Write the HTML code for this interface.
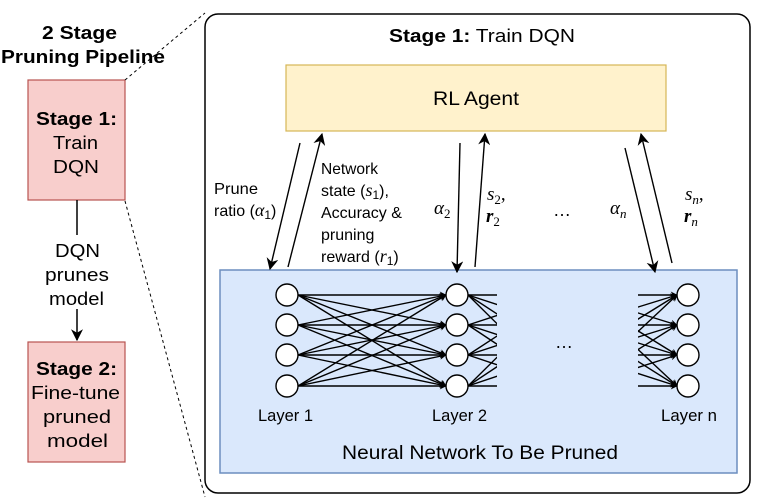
<!DOCTYPE html>
<html><head><meta charset="utf-8"><style>
html,body{margin:0;padding:0;background:#fff;}
svg{display:block;font-family:"Liberation Sans",Arial,sans-serif;}
</style></head><body>
<svg width="758" height="503" viewBox="0 0 758 503" xmlns="http://www.w3.org/2000/svg">
<defs>
<marker id="a" viewBox="0 0 10 10" refX="9" refY="5" markerWidth="7" markerHeight="7" orient="auto" markerUnits="userSpaceOnUse"><path d="M0,0 L10,5 L0,10 L3,5 z" fill="#000"/></marker>
<marker id="b" viewBox="0 0 10 10" refX="9" refY="5" markerWidth="12" markerHeight="12" orient="auto" markerUnits="userSpaceOnUse"><path d="M0,0 L10,5 L0,10 L3,5 z" fill="#000"/></marker>
<clipPath id="c2"><rect x="460" y="280" width="37" height="120"/></clipPath>
<clipPath id="cn"><rect x="638" y="280" width="60" height="120"/></clipPath>
</defs>
<!-- left -->
<g font-size="18.5" lengthAdjust="spacingAndGlyphs">
<text x="42" y="39" font-weight="bold" textLength="75" lengthAdjust="spacingAndGlyphs">2 Stage</text>
<text x="1" y="63" font-weight="bold" textLength="164" lengthAdjust="spacingAndGlyphs">Pruning Pipeline</text>
<rect x="28" y="80" width="97" height="120" fill="#f8cecc" stroke="#b85450" stroke-width="1.2"/>
<text x="36" y="125" font-weight="bold" textLength="81" lengthAdjust="spacingAndGlyphs">Stage 1:</text>
<text x="53" y="149" textLength="45" lengthAdjust="spacingAndGlyphs">Train</text>
<text x="53" y="173" textLength="46" lengthAdjust="spacingAndGlyphs">DQN</text>
<line x1="77" y1="200" x2="77" y2="235" stroke="#000" stroke-width="1.5"/>
<text x="55" y="257" textLength="45" lengthAdjust="spacingAndGlyphs">DQN</text>
<text x="45" y="281" textLength="64" lengthAdjust="spacingAndGlyphs">prunes</text>
<text x="49" y="305" textLength="55" lengthAdjust="spacingAndGlyphs">model</text>
<line x1="77" y1="309" x2="77" y2="340" stroke="#000" stroke-width="1.5" marker-end="url(#b)"/>
<rect x="28" y="342" width="97" height="120" fill="#f8cecc" stroke="#b85450" stroke-width="1.2"/>
<text x="36" y="375" font-weight="bold" textLength="81" lengthAdjust="spacingAndGlyphs">Stage 2:</text>
<text x="31" y="399" textLength="89" lengthAdjust="spacingAndGlyphs">Fine-tune</text>
<text x="43" y="423" textLength="68" lengthAdjust="spacingAndGlyphs">pruned</text>
<text x="47" y="447" textLength="61" lengthAdjust="spacingAndGlyphs">model</text>
</g>
<line x1="125" y1="80" x2="205" y2="13" stroke="#000" stroke-dasharray="3,3"/>
<line x1="125" y1="201" x2="205" y2="497" stroke="#000" stroke-dasharray="3,3"/>
<!-- main -->
<rect x="205" y="14" width="545" height="479" rx="13" fill="#fff" stroke="#000" stroke-width="1.5"/>
<text x="389" y="42" font-size="18.5" textLength="186" lengthAdjust="spacingAndGlyphs"><tspan font-weight="bold">Stage 1:</tspan> Train DQN</text>
<rect x="286" y="65" width="380" height="66" fill="#fff2cc" stroke="#d6b656" stroke-width="1.2"/>
<text x="433" y="105" font-size="19" textLength="86" lengthAdjust="spacingAndGlyphs">RL Agent</text>
<rect x="220" y="270" width="517" height="203" fill="#dae8fc" stroke="#6c8ebf" stroke-width="1.5"/>
<text x="342" y="459" font-size="19" textLength="276" lengthAdjust="spacingAndGlyphs">Neural Network To Be Pruned</text>
<!-- vertical arrows -->
<g stroke="#000" stroke-width="1.4" fill="none">
<line x1="300" y1="143" x2="270" y2="269" marker-end="url(#b)"/>
<line x1="288" y1="267" x2="322" y2="134" marker-end="url(#b)"/>
<line x1="460" y1="143" x2="457" y2="272" marker-end="url(#b)"/>
<line x1="475" y1="267" x2="485" y2="134" marker-end="url(#b)"/>
<line x1="625" y1="148" x2="655" y2="272" marker-end="url(#b)"/>
<line x1="672" y1="263" x2="641" y2="134" marker-end="url(#b)"/>
</g>
<g font-size="16">
<text x="214" y="194" textLength="44" lengthAdjust="spacingAndGlyphs">Prune</text>
<text x="214" y="216">ratio (<tspan font-family="Liberation Serif" font-style="italic" font-size="18">α</tspan><tspan font-size="12" dy="3">1</tspan><tspan dy="-3">)</tspan></text>
<text x="321" y="174" textLength="57" lengthAdjust="spacingAndGlyphs">Network</text>
<text x="321" y="196">state (<tspan font-family="Liberation Serif" font-style="italic" font-size="18">s</tspan><tspan font-size="12" dy="3">1</tspan><tspan dy="-3">),</tspan></text>
<text x="321" y="218">Accuracy &amp;</text>
<text x="321" y="240">pruning</text>
<text x="321" y="262">reward (<tspan font-family="Liberation Serif" font-style="italic" font-size="18">r</tspan><tspan font-size="12" dy="3">1</tspan><tspan dy="-3">)</tspan></text>
</g>
<g font-family="Liberation Serif" font-style="italic" font-size="19">
<text x="434" y="214">α<tspan font-size="13" dy="4" font-style="normal">2</tspan></text>
<text x="487" y="200">s<tspan font-size="13" dy="4" font-style="normal">2</tspan><tspan dy="-4" font-style="normal">,</tspan></text>
<text x="486" y="222" font-weight="bold">r<tspan font-size="13" dy="4" font-style="normal" font-weight="normal">2</tspan></text>
<text x="610" y="214">α<tspan font-size="13" dy="4">n</tspan></text>
<text x="685" y="200">s<tspan font-size="13" dy="4">n</tspan><tspan dy="-4" font-style="normal">,</tspan></text>
<text x="684" y="222" font-weight="bold">r<tspan font-size="13" dy="4" font-weight="normal">n</tspan></text>
</g>
<text x="553" y="216" font-size="18">…</text>
<text x="555" y="348" font-size="18">…</text>
<!-- network -->
<g stroke="#000" stroke-width="1.4">
<g marker-end="url(#a)">
<line x1="298" y1="295" x2="446" y2="295"/><line x1="298" y1="295" x2="446" y2="325"/><line x1="298" y1="295" x2="446" y2="355"/><line x1="298" y1="295" x2="446" y2="386"/>
<line x1="298" y1="325" x2="446" y2="295"/><line x1="298" y1="325" x2="446" y2="325"/><line x1="298" y1="325" x2="446" y2="355"/><line x1="298" y1="325" x2="446" y2="386"/>
<line x1="298" y1="355" x2="446" y2="295"/><line x1="298" y1="355" x2="446" y2="325"/><line x1="298" y1="355" x2="446" y2="355"/><line x1="298" y1="355" x2="446" y2="386"/>
<line x1="298" y1="386" x2="446" y2="295"/><line x1="298" y1="386" x2="446" y2="325"/><line x1="298" y1="386" x2="446" y2="355"/><line x1="298" y1="386" x2="446" y2="386"/>
</g>
<g clip-path="url(#c2)">
<line x1="468" y1="295" x2="560" y2="295"/><line x1="468" y1="295" x2="560" y2="325"/><line x1="468" y1="295" x2="560" y2="355"/><line x1="468" y1="295" x2="560" y2="386"/>
<line x1="468" y1="325" x2="560" y2="295"/><line x1="468" y1="325" x2="560" y2="325"/><line x1="468" y1="325" x2="560" y2="355"/><line x1="468" y1="325" x2="560" y2="386"/>
<line x1="468" y1="355" x2="560" y2="295"/><line x1="468" y1="355" x2="560" y2="325"/><line x1="468" y1="355" x2="560" y2="355"/><line x1="468" y1="355" x2="560" y2="386"/>
<line x1="468" y1="386" x2="560" y2="295"/><line x1="468" y1="386" x2="560" y2="325"/><line x1="468" y1="386" x2="560" y2="355"/><line x1="468" y1="386" x2="560" y2="386"/>
</g>
<g clip-path="url(#cn)" marker-end="url(#a)">
<line x1="580" y1="295" x2="677" y2="295"/><line x1="580" y1="295" x2="677" y2="325"/><line x1="580" y1="295" x2="677" y2="355"/><line x1="580" y1="295" x2="677" y2="386"/>
<line x1="580" y1="325" x2="677" y2="295"/><line x1="580" y1="325" x2="677" y2="325"/><line x1="580" y1="325" x2="677" y2="355"/><line x1="580" y1="325" x2="677" y2="386"/>
<line x1="580" y1="355" x2="677" y2="295"/><line x1="580" y1="355" x2="677" y2="325"/><line x1="580" y1="355" x2="677" y2="355"/><line x1="580" y1="355" x2="677" y2="386"/>
<line x1="580" y1="386" x2="677" y2="295"/><line x1="580" y1="386" x2="677" y2="325"/><line x1="580" y1="386" x2="677" y2="355"/><line x1="580" y1="386" x2="677" y2="386"/>
</g>
</g>
<g fill="#fff" stroke="#000" stroke-width="1.4">
<circle cx="287" cy="295" r="11"/><circle cx="287" cy="325" r="11"/><circle cx="287" cy="355" r="11"/><circle cx="287" cy="386" r="11"/>
<circle cx="457" cy="295" r="11"/><circle cx="457" cy="325" r="11"/><circle cx="457" cy="355" r="11"/><circle cx="457" cy="386" r="11"/>
<circle cx="688" cy="295" r="11"/><circle cx="688" cy="325" r="11"/><circle cx="688" cy="355" r="11"/><circle cx="688" cy="386" r="11"/>
</g>
<g font-size="16.5">
<text x="258" y="421" textLength="55" lengthAdjust="spacingAndGlyphs">Layer 1</text>
<text x="432" y="421" textLength="55" lengthAdjust="spacingAndGlyphs">Layer 2</text>
<text x="661" y="421" textLength="56" lengthAdjust="spacingAndGlyphs">Layer n</text>
</g>
</svg>
</body></html>
